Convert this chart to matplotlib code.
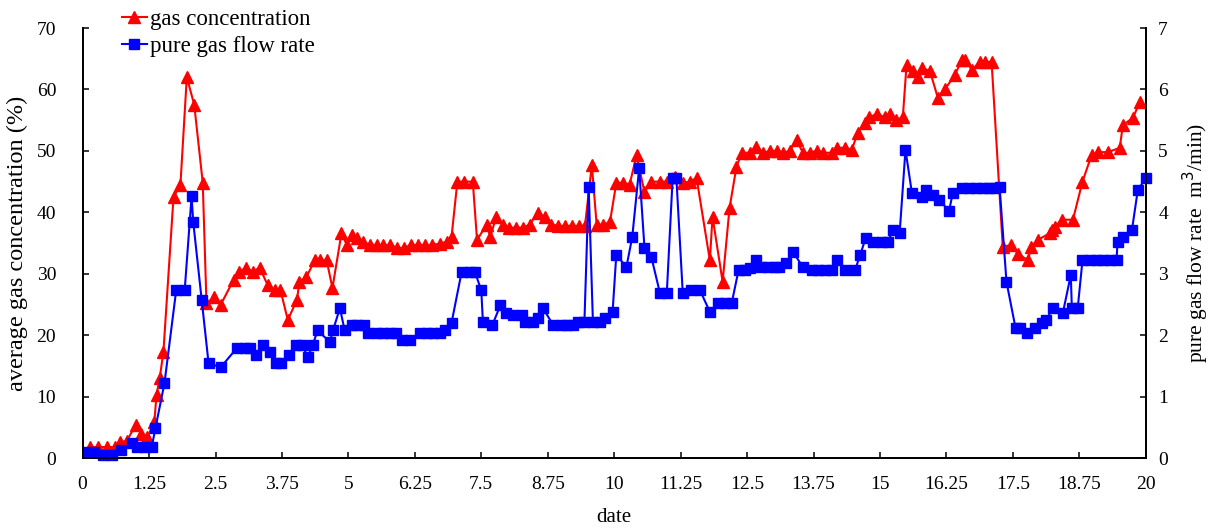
import matplotlib.pyplot as plt

# gas concentration (%)
conc_date = [0.13, 0.28, 0.45, 0.6, 0.7, 0.83, 1.0, 1.1, 1.22, 1.35, 1.39, 1.45, 1.52,
             1.71, 1.84, 1.96, 2.1, 2.26, 2.33, 2.48, 2.6, 2.84, 2.94, 3.08, 3.2, 3.33,
             3.48, 3.61, 3.72, 3.86, 4.03, 4.08, 4.21, 4.37, 4.46, 4.59, 4.7, 4.87, 4.97,
             5.06, 5.16, 5.27, 5.4, 5.53, 5.66, 5.79, 5.92, 6.05, 6.18, 6.31, 6.44, 6.57,
             6.72, 6.85, 6.94, 7.05, 7.18, 7.34, 7.42, 7.6, 7.67, 7.78, 7.9, 8.03, 8.16,
             8.28, 8.41, 8.56, 8.69, 8.82, 8.95, 9.08, 9.21, 9.34, 9.45, 9.58, 9.67, 9.79,
             9.92, 10.04, 10.16, 10.29, 10.42, 10.57, 10.7, 10.86, 10.99, 11.14, 11.29,
             11.42, 11.55, 11.8, 11.85, 12.04, 12.17, 12.3, 12.4, 12.55, 12.66, 12.8,
             12.93, 13.06, 13.17, 13.3, 13.43, 13.55, 13.68, 13.81, 13.93, 14.09, 14.2,
             14.34, 14.47, 14.58, 14.71, 14.8, 14.94, 15.09, 15.18, 15.31, 15.43, 15.5,
             15.62, 15.71, 15.79, 15.94, 16.09, 16.22, 16.41, 16.54, 16.6, 16.73, 16.88,
             16.97, 17.1, 17.31, 17.47, 17.59, 17.78, 17.85, 17.97, 18.19, 18.23, 18.29,
             18.42, 18.63, 18.81, 18.98, 19.1, 19.29, 19.51, 19.57, 19.76, 19.89]
conc = [1.8, 1.8, 1.8, 1.8, 2.6, 2.8, 5.4, 4.0, 3.4, 5.9, 10.3, 13.0, 17.3,
        42.5, 44.5, 62.0, 57.5, 44.8, 25.2, 26.2, 25.0, 29.0, 30.3, 31.0, 30.3, 31.0,
        28.2, 27.4, 27.4, 22.5, 25.7, 28.7, 29.5, 32.2, 32.2, 32.2, 27.7, 36.6, 34.7,
        36.3, 35.8, 35.2, 34.7, 34.7, 34.7, 34.7, 34.2, 34.2, 34.7, 34.7, 34.7, 34.7,
        34.9, 35.2, 36.0, 45.0, 45.0, 45.0, 35.5, 38.0, 36.0, 39.3, 38.0, 37.5, 37.5,
        37.5, 38.0, 39.9, 39.3, 38.0, 37.8, 37.8, 37.8, 37.8, 37.8, 47.7, 38.0, 38.0,
        38.4, 44.8, 44.8, 44.5, 49.3, 43.3, 45.0, 45.0, 45.0, 45.8, 44.8,
        45.0, 45.6, 32.2, 39.3, 28.7, 40.7, 47.4, 49.7, 49.7, 50.7, 49.7,
        50.0, 50.0, 49.7, 50.0, 51.8, 49.7, 49.7, 50.0, 49.7, 49.7, 50.5,
        50.5, 50.2, 52.9, 54.5, 55.5, 56.0, 55.5, 56.0, 55.0, 55.5, 64.0,
        63.0, 62.0, 63.5, 63.0, 58.6, 60.0, 62.4, 64.8, 64.8, 63.2, 64.5,
        64.5, 64.5, 34.4, 34.7, 33.3, 32.2, 34.4, 35.5, 36.6, 37.1, 37.6,
        38.8, 38.8, 45.0, 49.3, 49.8, 49.8, 50.5, 54.2, 55.4, 58.0]

# pure gas flow rate (m3/min)
flow_date = [0.1, 0.22, 0.38, 0.55, 0.73, 0.92, 1.03, 1.17, 1.3, 1.37, 1.54, 1.76, 1.92,
             2.05, 2.08, 2.24, 2.37, 2.6, 2.9, 3.05, 3.14, 3.27, 3.39, 3.52, 3.64, 3.74,
             3.88, 4.01, 4.12, 4.24, 4.33, 4.42, 4.65, 4.71, 4.84, 4.93, 5.06, 5.17, 5.3,
             5.36, 5.53, 5.66, 5.79, 5.9, 6.0, 6.15, 6.34, 6.47, 6.6, 6.72, 6.81, 6.94,
             7.13, 7.28, 7.38, 7.5, 7.53, 7.71, 7.86, 7.97, 8.09, 8.26, 8.32, 8.47, 8.56,
             8.66, 8.85, 9.01, 9.12, 9.22, 9.31, 9.44, 9.52, 9.6, 9.73, 9.82, 9.97, 10.04,
             10.23, 10.34, 10.47, 10.57, 10.7, 10.86, 10.99, 11.1, 11.17, 11.29, 11.45,
             11.61, 11.8, 11.95, 12.08, 12.21, 12.34, 12.46, 12.56, 12.66, 12.77, 12.89,
             13.02, 13.11, 13.24, 13.36, 13.55, 13.72, 13.83, 13.96, 14.09, 14.19, 14.34,
             14.53, 14.63, 14.73, 14.86, 15.03, 15.15, 15.24, 15.37, 15.48, 15.6, 15.79,
             15.86, 15.99, 16.12, 16.3, 16.37, 16.54, 16.67, 16.8, 16.93, 17.06, 17.15,
             17.25, 17.38, 17.55, 17.63, 17.76, 17.91, 18.04, 18.13, 18.25, 18.44, 18.59,
             18.61, 18.72, 18.81, 18.95, 19.08, 19.2, 19.33, 19.45, 19.47, 19.57, 19.74,
             19.85, 20.0]
flow = [0.1, 0.1, 0.05, 0.05, 0.13, 0.24, 0.18, 0.18, 0.18, 0.49, 1.22, 2.73, 2.73,
        4.26, 3.85, 2.57, 1.54, 1.48, 1.79, 1.79, 1.79, 1.68, 1.84, 1.73, 1.54, 1.54,
        1.68, 1.84, 1.84, 1.65, 1.84, 2.08, 1.89, 2.08, 2.44, 2.08, 2.17, 2.17, 2.17,
        2.03, 2.03, 2.03, 2.03, 2.03, 1.92, 1.92, 2.03, 2.03, 2.03, 2.03, 2.08, 2.2,
        3.03, 3.03, 3.03, 2.73, 2.22, 2.17, 2.49, 2.36, 2.33, 2.33, 2.22, 2.22, 2.28,
        2.44, 2.17, 2.17, 2.17, 2.17, 2.22, 2.22, 4.41, 2.22, 2.22, 2.28, 2.38, 3.31,
        3.11, 3.6, 4.72, 3.42, 3.27, 2.69, 2.69, 4.56, 4.56, 2.69, 2.74,
        2.74, 2.38, 2.52, 2.52, 2.52, 3.06, 3.06, 3.1, 3.22, 3.11, 3.11,
        3.11, 3.11, 3.17, 3.36, 3.11, 3.06, 3.06, 3.06, 3.06, 3.22, 3.06,
        3.06, 3.31, 3.58, 3.52, 3.52, 3.52, 3.71, 3.66, 5.02, 4.32, 4.25,
        4.36, 4.28, 4.2, 4.02, 4.32, 4.4, 4.4, 4.4, 4.4, 4.4, 4.4,
        4.42, 2.87, 2.12, 2.12, 2.03, 2.12, 2.2, 2.25, 2.44, 2.36, 2.98,
        2.44, 2.44, 3.22, 3.22, 3.22, 3.22, 3.22, 3.22, 3.52, 3.6, 3.71,
        4.36, 4.56]

xticks = [0, 1.25, 2.5, 3.75, 5, 6.25, 7.5, 8.75, 10, 11.25, 12.5, 13.75, 15,
          16.25, 17.5, 18.75, 20]

plt.rcParams['font.family'] = ['Liberation Serif', 'DejaVu Serif']

fig = plt.figure(figsize=(12.15, 5.29), dpi=100)
ax1 = fig.add_axes([0.068, 0.134, 0.875, 0.813])
ax2 = ax1.twinx()

l1, = ax1.plot(conc_date, conc, color='#FF0000', marker='^', markersize=8,
               linewidth=1.5, label='gas concentration')
l2, = ax2.plot(flow_date, flow, color='#0000FF', marker='s', markersize=6.5,
               linewidth=1.5, label='pure gas flow rate', clip_on=False)

ax1.set_xlim(0, 20)
ax1.set_ylim(0, 70)
ax2.set_ylim(0, 7)
ax1.set_xticks(xticks)
ax1.set_xticklabels(['%g' % t for t in xticks])

for ax in (ax1, ax2):
    ax.spines['top'].set_visible(False)
    for s in ('left', 'right', 'bottom'):
        ax.spines[s].set_linewidth(1.3)
    ax.tick_params(direction='in', length=4, width=1.1, labelsize=14)

ax1.tick_params(axis='x', pad=13)
ax1.tick_params(axis='y', pad=19)
ax2.tick_params(axis='y', pad=9)

ax1.set_xlabel('date', fontsize=15, labelpad=11)
ax1.set_ylabel('average gas concentration (%)', fontsize=17.5, labelpad=6)
ax2.set_ylabel('pure gas flow rate  m$^3$/min)', fontsize=15.5, labelpad=9)

ax2.legend(handles=[l1, l2], loc='upper left', bbox_to_anchor=(0.028, 1.065),
           frameon=False, fontsize=16.5, handlelength=1.1, handletextpad=0.15,
           labelspacing=0.25, borderaxespad=0)

fig.savefig('out.png', dpi=100)
